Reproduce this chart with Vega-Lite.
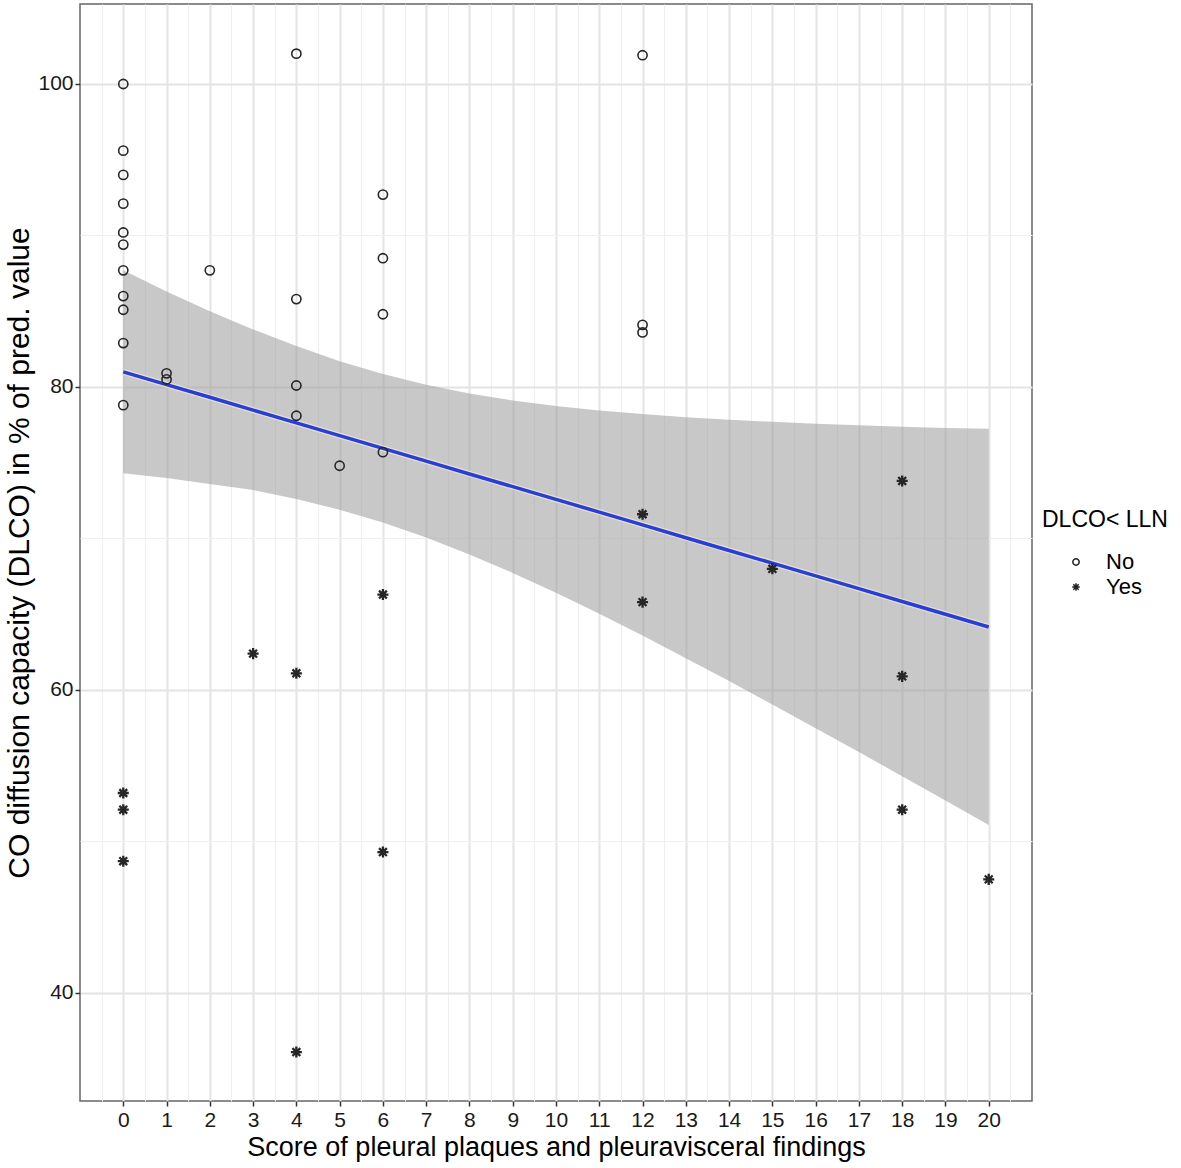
{
  "$schema": "https://vega.github.io/schema/vega-lite/v6.json",
  "autosize": "none",
  "width": 952,
  "height": 1097,
  "padding": {"left": 80, "top": 4, "right": 149, "bottom": 67},
  "background": "white",
  "config": {
    "view": {"stroke": "#666666", "strokeWidth": 1.5},
    "font": "Liberation Sans",
    "axis": {
      "domain": false,
      "tickColor": "#333333",
      "tickSize": 5,
      "tickWidth": 1.5,
      "labelFont": "Liberation Sans",
      "labelFontSize": 21,
      "labelColor": "#1a1a1a",
      "titleFont": "Liberation Sans",
      "titleFontWeight": "normal",
      "titleColor": "#000000"
    },
    "legend": {
      "titleFont": "Liberation Sans",
      "labelFont": "Liberation Sans"
    }
  },
  "datasets": {
    "pts": [
      {"score": 0, "dlco": 100.0, "lln": "No"},
      {"score": 0, "dlco": 95.6, "lln": "No"},
      {"score": 0, "dlco": 94.0, "lln": "No"},
      {"score": 0, "dlco": 92.1, "lln": "No"},
      {"score": 0, "dlco": 90.2, "lln": "No"},
      {"score": 0, "dlco": 89.4, "lln": "No"},
      {"score": 0, "dlco": 87.7, "lln": "No"},
      {"score": 0, "dlco": 86.0, "lln": "No"},
      {"score": 0, "dlco": 85.1, "lln": "No"},
      {"score": 0, "dlco": 82.9, "lln": "No"},
      {"score": 0, "dlco": 78.8, "lln": "No"},
      {"score": 1, "dlco": 80.9, "lln": "No"},
      {"score": 1, "dlco": 80.5, "lln": "No"},
      {"score": 2, "dlco": 87.7, "lln": "No"},
      {"score": 4, "dlco": 102.0, "lln": "No"},
      {"score": 4, "dlco": 85.8, "lln": "No"},
      {"score": 4, "dlco": 80.1, "lln": "No"},
      {"score": 4, "dlco": 78.1, "lln": "No"},
      {"score": 5, "dlco": 74.8, "lln": "No"},
      {"score": 6, "dlco": 92.7, "lln": "No"},
      {"score": 6, "dlco": 88.5, "lln": "No"},
      {"score": 6, "dlco": 84.8, "lln": "No"},
      {"score": 6, "dlco": 75.7, "lln": "No"},
      {"score": 12, "dlco": 101.9, "lln": "No"},
      {"score": 12, "dlco": 84.1, "lln": "No"},
      {"score": 12, "dlco": 83.6, "lln": "No"},
      {"score": 0, "dlco": 53.2, "lln": "Yes"},
      {"score": 0, "dlco": 52.1, "lln": "Yes"},
      {"score": 0, "dlco": 48.7, "lln": "Yes"},
      {"score": 3, "dlco": 62.4, "lln": "Yes"},
      {"score": 4, "dlco": 61.1, "lln": "Yes"},
      {"score": 4, "dlco": 36.1, "lln": "Yes"},
      {"score": 6, "dlco": 66.3, "lln": "Yes"},
      {"score": 6, "dlco": 49.3, "lln": "Yes"},
      {"score": 12, "dlco": 71.6, "lln": "Yes"},
      {"score": 12, "dlco": 65.8, "lln": "Yes"},
      {"score": 15, "dlco": 68.0, "lln": "Yes"},
      {"score": 18, "dlco": 73.8, "lln": "Yes"},
      {"score": 18, "dlco": 60.9, "lln": "Yes"},
      {"score": 18, "dlco": 52.1, "lln": "Yes"},
      {"score": 20, "dlco": 47.5, "lln": "Yes"}
    ],
    "band": [
      {"score": 0, "fit": 81.0, "lower": 74.3, "upper": 87.7},
      {"score": 1, "fit": 80.16, "lower": 74.0, "upper": 86.3},
      {"score": 2, "fit": 79.32, "lower": 73.6, "upper": 85.0},
      {"score": 3, "fit": 78.47, "lower": 73.2, "upper": 83.8},
      {"score": 4, "fit": 77.63, "lower": 72.6, "upper": 82.7},
      {"score": 5, "fit": 76.79, "lower": 71.9, "upper": 81.7},
      {"score": 6, "fit": 75.95, "lower": 71.05, "upper": 80.85},
      {"score": 7, "fit": 75.11, "lower": 70.07, "upper": 80.15},
      {"score": 8, "fit": 74.26, "lower": 68.95, "upper": 79.57},
      {"score": 9, "fit": 73.42, "lower": 67.73, "upper": 79.11},
      {"score": 10, "fit": 72.58, "lower": 66.42, "upper": 78.74},
      {"score": 11, "fit": 71.74, "lower": 65.03, "upper": 78.45},
      {"score": 12, "fit": 70.9, "lower": 63.59, "upper": 78.21},
      {"score": 13, "fit": 70.05, "lower": 62.1, "upper": 78.0},
      {"score": 14, "fit": 69.21, "lower": 60.59, "upper": 77.83},
      {"score": 15, "fit": 68.37, "lower": 59.04, "upper": 77.7},
      {"score": 16, "fit": 67.53, "lower": 57.48, "upper": 77.58},
      {"score": 17, "fit": 66.69, "lower": 55.9, "upper": 77.48},
      {"score": 18, "fit": 65.84, "lower": 54.3, "upper": 77.38},
      {"score": 19, "fit": 65.0, "lower": 52.7, "upper": 77.3},
      {"score": 20, "fit": 64.16, "lower": 51.08, "upper": 77.24}
    ]
  },
  "resolve": {"axis": {"x": "independent", "y": "independent"}},
  "layer": [
    {
      "data": {"name": "band"},
      "mark": {"type": "area", "fill": "#999999", "opacity": 0.54},
      "encoding": {
        "x": {
          "field": "score", "type": "quantitative",
          "scale": {"domain": [-1, 21], "nice": false, "zero": false},
          "axis": {
            "orient": "top",
            "title": null,
            "values": [-0.5, 0.5, 1.5, 2.5, 3.5, 4.5, 5.5, 6.5, 7.5, 8.5, 9.5, 10.5, 11.5, 12.5, 13.5, 14.5, 15.5, 16.5, 17.5, 18.5, 19.5, 20.5],
            "labels": false,
            "ticks": false,
            "domain": false,
            "grid": true,
            "gridColor": "#efefef",
            "gridWidth": 1
          }
        },
        "y": {
          "field": "lower", "type": "quantitative",
          "scale": {"domain": [32.87, 105.28], "nice": false, "zero": false},
          "axis": {
            "orient": "right",
            "title": null,
            "values": [50, 70, 90],
            "labels": false,
            "ticks": false,
            "domain": false,
            "grid": true,
            "gridColor": "#efefef",
            "gridWidth": 1
          }
        },
        "y2": {"field": "upper"}
      }
    },
    {
      "data": {"name": "band"},
      "mark": {"type": "line", "color": "#f2e2a6", "strokeWidth": 6},
      "encoding": {
        "x": {"field": "score", "type": "quantitative", "axis": null},
        "y": {"field": "fit", "type": "quantitative", "axis": null}
      }
    },
    {
      "data": {"name": "band"},
      "mark": {"type": "line", "color": "#1f3cf6", "strokeWidth": 3.5},
      "encoding": {
        "x": {"field": "score", "type": "quantitative", "axis": null},
        "y": {"field": "fit", "type": "quantitative", "axis": null}
      }
    },
    {
      "data": {"name": "pts"},
      "mark": {"type": "point", "filled": false, "stroke": "#262626", "size": 85, "opacity": 1},
      "encoding": {
        "x": {
          "field": "score", "type": "quantitative",
          "axis": {
            "title": "Score of pleural plaques and pleuravisceral findings",
            "titleFontSize": 27,
            "values": [0, 1, 2, 3, 4, 5, 6, 7, 8, 9, 10, 11, 12, 13, 14, 15, 16, 17, 18, 19, 20],
            "grid": true,
            "gridColor": "#e4e4e4",
            "gridWidth": 2,
            "labelPadding": 3,
            "titlePadding": 4,
            "labelFlush": false,
            "labelOverlap": false
          }
        },
        "y": {
          "field": "dlco", "type": "quantitative",
          "axis": {
            "title": "CO diffusion capacity (DLCO) in % of pred.  value",
            "titleFontSize": 30,
            "values": [40, 60, 80, 100],
            "grid": true,
            "gridColor": "#e4e4e4",
            "gridWidth": 2,
            "labelPadding": 2,
            "titlePadding": 3,
            "labelFlush": false
          }
        },
        "strokeWidth": {"condition": {"test": "datum.lln === 'Yes'", "value": 2.3}, "value": 1.6},
        "shape": {
          "field": "lln", "type": "nominal",
          "scale": {"domain": ["No", "Yes"], "range": ["circle", "M-1.2,0L1.2,0M0,-1.2L0,1.2M-0.85,-0.85L0.85,0.85M-0.85,0.85L0.85,-0.85"]},
          "legend": {
            "title": "DLCO< LLN",
            "orient": "none",
            "legendX": 962,
            "legendY": 505,
            "padding": 0,
            "titleFontSize": 23,
            "titleFontWeight": "normal",
            "titleColor": "#000000",
            "titlePadding": 19,
            "labelFontSize": 22,
            "labelColor": "#000000",
            "symbolSize": 40,
            "symbolStrokeColor": "#222222",
            "symbolStrokeWidth": 1.5,
            "symbolOffset": 23,
            "labelOffset": 19,
            "rowPadding": 3
          }
        }
      }
    }
  ]
}
